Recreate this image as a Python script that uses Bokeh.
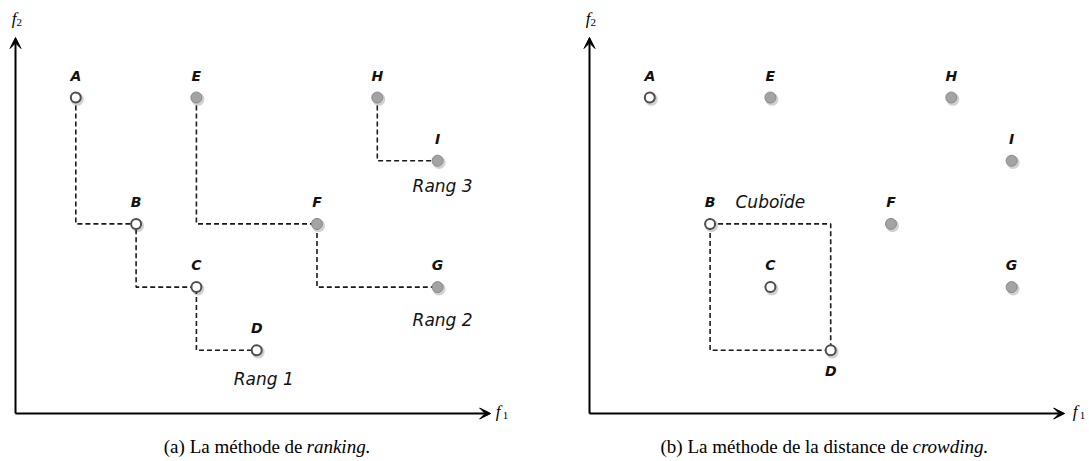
import numpy as np
from bokeh.plotting import figure
from bokeh.layouts import row
from bokeh.models import Range1d, Arrow, VeeHead
from bokeh.core.properties import value
from bokeh.embed import file_html
from bokeh.resources import INLINE

# ---------------- data ----------------
names = ["A", "B", "C", "D", "E", "F", "G", "H", "I"]
f1 = [1, 2, 3, 4, 3, 5, 7, 6, 7]
f2 = [5, 3, 2, 1, 5, 3, 2, 5, 4]
ranks = [1, 1, 1, 1, 2, 2, 2, 3, 3]
rank_labels = ["Rang 1", "Rang 2", "Rang 3"]
crowd_point = "C"
cuboid_label = "Cuboïde"
caption_a = ["(a) La méthode de", "ranking."]
caption_b = ["(b) La méthode de la distance de", "crowding."]
caption_split = [4.76, 5.29]
axis_x_max = 7.88
axis_y_max = 5.95

# ---------------- geometry ----------------
SX = 60.3
SY = 63.2
H = 458
ORIGIN_Y = 413
Y1 = ORIGIN_Y / SY
Y0 = -(H - ORIGIN_Y) / SY

LBL_FONT = value("DejaVu Sans")
SERIF = value("Liberation Serif")

x = np.array(f1, dtype=float)
y = np.array(f2, dtype=float)
r = np.array(ranks)
nm = np.array(names)


def base(width, left_px, origin_px, fx_off):
    x0 = -(origin_px - left_px) / SX
    p = figure(width=width, height=H, x_range=Range1d(x0, x0 + width / SX),
               y_range=Range1d(Y0, Y1), output_backend="svg",
               toolbar_location=None, min_border=0,
               x_axis_location=None, y_axis_location=None)
    p.outline_line_color = None
    p.grid.visible = False
    p.background_fill_color = "white"
    # axes arrows
    for xe, ye in [(axis_x_max, 0), (0, axis_y_max)]:
        p.add_layout(Arrow(end=VeeHead(size=11, fill_color="black", line_color="black", line_width=1),
                           x_start=0, y_start=0, x_end=xe, y_end=ye,
                           line_width=2, line_color="black"))
    # axis labels f1 / f2
    p.text([axis_x_max], [0], text=["f"], text_font=SERIF, text_font_style="italic",
           text_font_size="17px", text_align="left", text_baseline="middle",
           x_offset=fx_off, y_offset=-2, text_color="black")
    p.text([axis_x_max], [0], text=["1"], text_font=SERIF,
           text_font_size="11px", text_align="left", text_baseline="middle",
           x_offset=fx_off + 7, y_offset=2, text_color="black")
    p.text([0], [axis_y_max], text=["f"], text_font=SERIF, text_font_style="italic",
           text_font_size="17px", text_align="right", text_baseline="middle",
           x_offset=1, y_offset=-19, text_color="black")
    p.text([0], [axis_y_max], text=["2"], text_font=SERIF,
           text_font_size="11px", text_align="left", text_baseline="middle",
           x_offset=1, y_offset=-15, text_color="black")
    return p


def draw_points(p, label_dy):
    # shadows
    p.scatter(x + 1.5 / SX, y - 1.8 / SY, size=13, fill_color="black",
              fill_alpha=0.18, line_color=None)
    first = r == 1
    p.scatter(x[~first], y[~first], size=11, fill_color="#a3a3a3",
              line_color="#8a8a8a", line_width=1)
    p.scatter(x[first], y[first], size=10, fill_color="white",
              line_color="#4d4d4d", line_width=2)
    p.text(x, y, text=names, text_font=LBL_FONT, text_font_style="bold italic",
           text_font_size="14px", text_align="center", text_baseline="middle",
           y_offset=label_dy, text_color="#111111")


def caption(p, pieces, split):
    p.text([split], [0], text=[pieces[0]], text_font=SERIF, text_font_size="19px",
           text_align="right", text_baseline="middle", y_offset=33, text_color="black")
    p.text([split], [0], text=[pieces[1]], text_font=SERIF, text_font_style="italic",
           text_font_size="19px", text_align="left", text_baseline="middle",
           x_offset=4, y_offset=33, text_color="black")


DASH = dict(line_dash="5 3", line_width=1.6, line_color="#1a1a1a")

# ---------------- panel (a) ----------------
pa = base(544, 0, 15, 5)
rank_off = [(7, 29), (5, 33), (5, 25)]
for k in sorted(set(ranks)):
    idx = np.where(r == k)[0]
    idx = idx[np.argsort(x[idx])]
    xs, ys = [x[idx[0]]], [y[idx[0]]]
    for j in idx[1:]:
        xs += [xs[-1], x[j]]
        ys += [y[j], y[j]]
    pa.line(xs, ys, **DASH)
    last = idx[-1]
    dx, dy = rank_off[k - 1]
    pa.text([x[last]], [y[last]], text=[rank_labels[k - 1]], text_font=LBL_FONT,
            text_font_style="italic", text_font_size="17px", text_align="center",
            text_baseline="middle", x_offset=dx, y_offset=dy, text_color="#111111")
draw_points(pa, -22)
caption(pa, caption_a, caption_split[0])

# ---------------- panel (b) ----------------
pb = base(545, 544, 589, 8)
idx = np.where(r == 1)[0]
idx = idx[np.argsort(x[idx])]
c = int(np.where(nm == crowd_point)[0][0])
pos = list(idx).index(c)
b, d = idx[pos - 1], idx[pos + 1]
pb.line([x[b], x[d], x[d], x[b], x[b]], [y[b], y[b], y[d], y[d], y[b]], **DASH)
pb.text([(x[b] + x[d]) / 2], [y[b]], text=[cuboid_label], text_font=LBL_FONT,
        text_font_style="italic", text_font_size="17px", text_align="center",
        text_baseline="middle", y_offset=-22, text_color="#111111")
dys = [21 if n == names[d] else -22 for n in names]
draw_points(pb, dys)
caption(pb, caption_b, caption_split[1])

layout = row(pa, pb)
open("out.html", "w").write(file_html(layout, INLINE))
